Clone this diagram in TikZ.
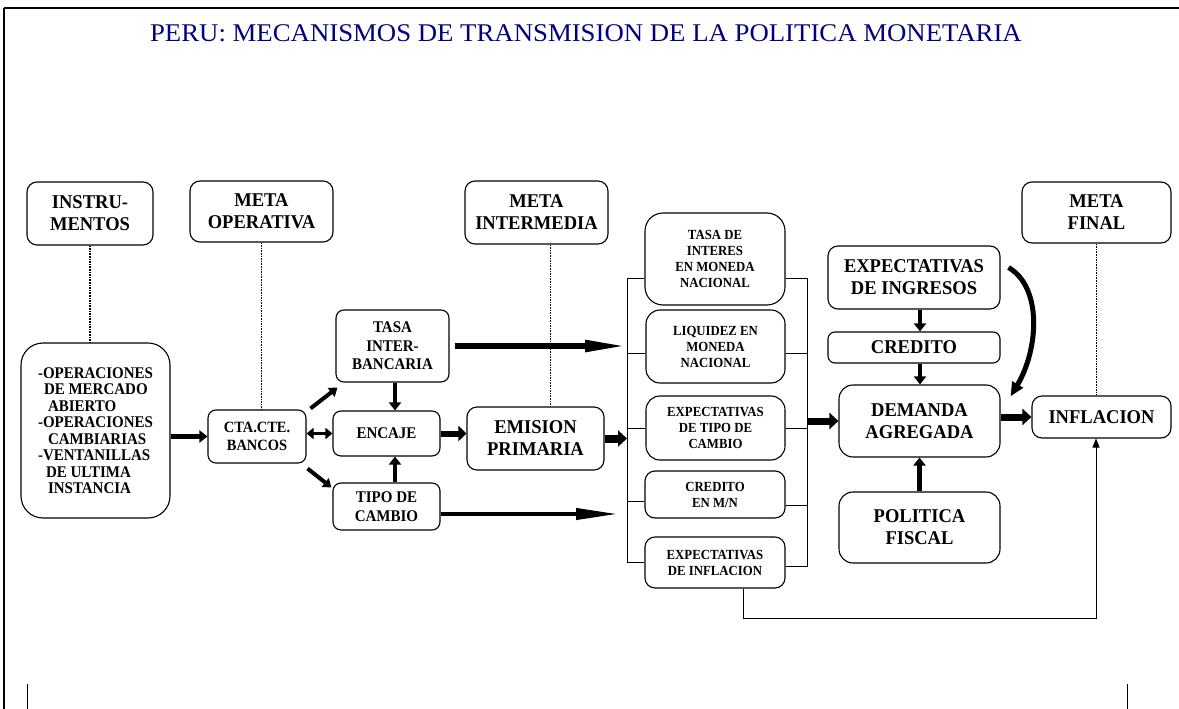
\documentclass[tikz,border=0pt]{standalone}
\usepackage{fontspec}
\setmainfont{Liberation Serif}
\newfontfamily\condfont[FakeStretch=0.92]{Liberation Serif}
\newfontfamily\headfont[FakeStretch=0.95]{Liberation Serif}
\newfontfamily\titlefont[FakeStretch=1.05]{Liberation Serif}
\usetikzlibrary{arrows.meta,positioning,calc}
\definecolor{navy}{HTML}{000080}
\tikzset{
  box/.style={draw, rounded corners=10pt, line width=1.1pt, align=center, inner sep=0pt},
  headbox/.style={box, font=\headfont\fontsize{19.5}{22}\selectfont\bfseries},
  smallbox/.style={box, rounded corners=8pt, font=\condfont\fontsize{16.3}{18.5}\selectfont\bfseries},
  colbox/.style={box, rounded corners=14pt, font=\condfont\fontsize{13.9}{16}\selectfont\bfseries},
  wire/.style={line width=1pt},
  dots/.style={line width=1.6pt, densely dotted},
  blockarr/.style={line width=4.5pt, -{Triangle[length=8pt,width=12pt]}},
  bigarr/.style={line width=8pt, -{Triangle[length=9pt,width=16pt]}},
  longarr/.style={line width=5.5pt, -{Triangle[length=42pt,width=11pt]}},
  thinarr/.style={line width=1pt, -{Triangle[length=9pt,width=7pt]}}
}
\begin{document}
\begin{tikzpicture}[x=1pt,y=-1pt]
  \fill[white] (0,0) rectangle (1179,709);
  \useasboundingbox (0,0) rectangle (1179,709);
  % frame
  \draw[line width=2pt] (4,8.5) -- (1179,8.5);
  \draw[line width=1.5pt] (4,8) -- (4,709);
  \draw[line width=1pt] (27,684) -- (27,709);
  \draw[line width=1pt] (1127,684) -- (1127,709);

  \node[font=\titlefont\fontsize{25.5}{30}\selectfont, text=navy] (title) at (586,33)
    {PERU: MECANISMOS DE TRANSMISION DE LA POLITICA MONETARIA};

  % headers
  \node[headbox, minimum width=126pt, minimum height=63pt] (instr) at (90,213.5) {INSTRU-\\MENTOS};
  \node[headbox, minimum width=143pt, minimum height=61pt] (metaop) at (261.5,211.5) {META\\OPERATIVA};
  \node[headbox, minimum width=143pt, minimum height=63pt] (metaint) at (536.5,212.5) {META\\INTERMEDIA};
  \node[headbox, minimum width=149pt, minimum height=61pt] (metafin) at (1096.5,212.5) {META\\FINAL};

  % instruments and operating target
  \node[box, rounded corners=22pt, minimum width=149pt, minimum height=175pt,
        align=left, font=\condfont\fontsize{16.3}{16.5}\selectfont\bfseries] (ops) at (95.5,430.5)
    {-OPERACIONES\\\hspace*{6pt}DE MERCADO\\\hspace*{10pt}ABIERTO\\-OPERACIONES\\\hspace*{10pt}CAMBIARIAS\\-VENTANILLAS\\\hspace*{8pt}DE ULTIMA\\\hspace*{10pt}INSTANCIA};
  \node[smallbox, minimum width=98pt, minimum height=53pt,
        font=\condfont\fontsize{15.7}{18}\selectfont\bfseries] (cta) at (257,436.5) {CTA.CTE.\\BANCOS};
  \node[smallbox, minimum width=113pt, minimum height=72pt] (tasa) at (392.5,346) {TASA\\INTER-\\BANCARIA};
  \node[smallbox, minimum width=107pt, minimum height=45pt] (encaje) at (386.5,433.5) {ENCAJE};
  \node[smallbox, minimum width=107pt, minimum height=47pt] (tipo) at (386.5,506.5) {TIPO DE\\CAMBIO};
  \node[headbox, minimum width=137pt, minimum height=63pt] (emision) at (535.5,438.5) {EMISION\\PRIMARIA};

  % channels
  \node[colbox, rounded corners=18pt, minimum width=140pt, minimum height=92pt] (tasamn) at (715,259) {TASA DE\\INTERES\\EN MONEDA\\NACIONAL};
  \node[colbox, minimum width=139pt, minimum height=73pt] (liq) at (715.5,346.5) {LIQUIDEZ EN\\MONEDA\\NACIONAL};
  \node[colbox, minimum width=139pt, minimum height=64pt] (exptc) at (715.5,428) {EXPECTATIVAS\\DE TIPO DE\\CAMBIO};
  \node[colbox, rounded corners=10pt, minimum width=140pt, minimum height=47pt] (credmn) at (715,494.5) {CREDITO\\EN M/N};
  \node[colbox, rounded corners=10pt, minimum width=140pt, minimum height=51pt] (expinf) at (715,562.5) {EXPECTATIVAS\\DE INFLACION};

  % demand side
  \node[headbox, minimum width=172pt, minimum height=63pt] (expin) at (914,277.5) {EXPECTATIVAS\\DE INGRESOS};
  \node[headbox, rounded corners=7pt, minimum width=172pt, minimum height=31pt] (credito) at (914,347.5) {CREDITO};
  \node[headbox, rounded corners=14pt, minimum width=161pt, minimum height=72pt] (demanda) at (919.5,421) {DEMANDA\\AGREGADA};
  \node[headbox, rounded corners=14pt, minimum width=161pt, minimum height=71pt] (politica) at (919.5,527.5) {POLITICA\\FISCAL};
  \node[headbox, minimum width=139pt, minimum height=42pt] (inflacion) at (1101.5,417) {INFLACION};

  % dotted links to the targets
  \draw[dots] (instr.south) -- (instr.south |- ops.north);
  \draw[dots] (metaop.south) -- (metaop.south |- cta.north);
  \draw[dots] ([xshift=14pt]metaint.south) -- ([xshift=14pt]metaint.south |- emision.north);
  \draw[dots] (metafin.south) -- (metafin.south |- inflacion.north);

  % brackets round the channels
  \coordinate (bl) at (627,0);
  \coordinate (br) at (807,0);
  \path ($(tasamn.west)+(0,19)$) coordinate (l1) ($(liq.west)+(0,6.5)$) coordinate (l2)
        (exptc.west) coordinate (l3) ($(credmn.west)+(0,6.5)$) coordinate (l4)
        ($(expinf.west)+(0,-0.5)$) coordinate (l5);
  \path ($(tasamn.east)+(0,19)$) coordinate (r1) ($(liq.east)+(0,6.5)$) coordinate (r2)
        (exptc.east) coordinate (r3) ($(credmn.east)+(0,10.5)$) coordinate (r4)
        ($(expinf.east)+(0,3.5)$) coordinate (r5);
  \draw[wire] (l1) -- (l1 -| bl) -- (l5 -| bl) -- (l5);
  \foreach \s in {l2,l3,l4} \draw[wire] (\s) -- (\s -| bl);
  \draw[wire] (r1) -- (r1 -| br) -- (r5 -| br) -- (r5);
  \foreach \s in {r2,r3,r4} \draw[wire] (\s) -- (\s -| br);

  % arrows
  \draw[blockarr] (ops.east |- cta) -- (cta.west);
  \draw[line width=3.5pt, {Triangle[length=7pt,width=11pt]}-{Triangle[length=7pt,width=11pt]}] (cta.east |- encaje) -- (encaje.west);
  \draw[line width=4pt, -{Triangle[length=8pt,width=11pt]}] ($(cta.north east)+(4,-1)$) -- ($(tasa.south west)+(2,5)$);
  \draw[line width=4pt, -{Triangle[length=8pt,width=11pt]}] ($(cta.south east)+(1,5)$) -- ($(tipo.north west)+(-1,5)$);
  \draw[blockarr] ([xshift=2.5pt]tasa.south) -- ([xshift=2.5pt]tasa.south |- encaje.north);
  \draw[blockarr] ([xshift=8.5pt]tipo.north) -- ([xshift=8.5pt]tipo.north |- encaje.south);
  \draw[line width=6pt, -{Triangle[length=8pt,width=15pt]}] (encaje.east) -- (emision.west |- encaje);
  \draw[bigarr] (emision.east) -- (emision.east -| bl);
  \draw[longarr] ($(tasa.east)+(5,0)$) -- (tasa.east -| bl);
  \draw[longarr, line width=4pt, shorten >=9pt] ($(tipo.east)+(0,7.5)$) -- ($(tipo.east -| bl)+(0,7.5)$);
  \draw[bigarr, line width=7pt] (br |- demanda.west) -- (demanda.west);
  \draw[blockarr] ([xshift=6pt]expin.south) -- ([xshift=6pt]expin.south |- credito.north);
  \draw[blockarr] ([xshift=6pt]credito.south) -- ([xshift=6pt]credito.south |- demanda.north);
  \draw[blockarr, line width=5pt] (politica.north) -- (demanda.south);
  \draw[bigarr, line width=7pt] (demanda.east |- inflacion) -- (inflacion.west);
  \draw[line width=5pt, -{Triangle[length=14pt,width=12pt]}] ($(expin.east)+(8,-10)$)
    .. controls ($(expin.east)+(42,10)$) and ($(demanda.north east)+(38,-35)$) .. ($(demanda.north east)+(10,12)$);
  \draw[thinarr] ([xshift=28pt]expinf.south) -- ++(0,30) -| ([xshift=-5.5pt]inflacion.south);
\end{tikzpicture}
\end{document}
